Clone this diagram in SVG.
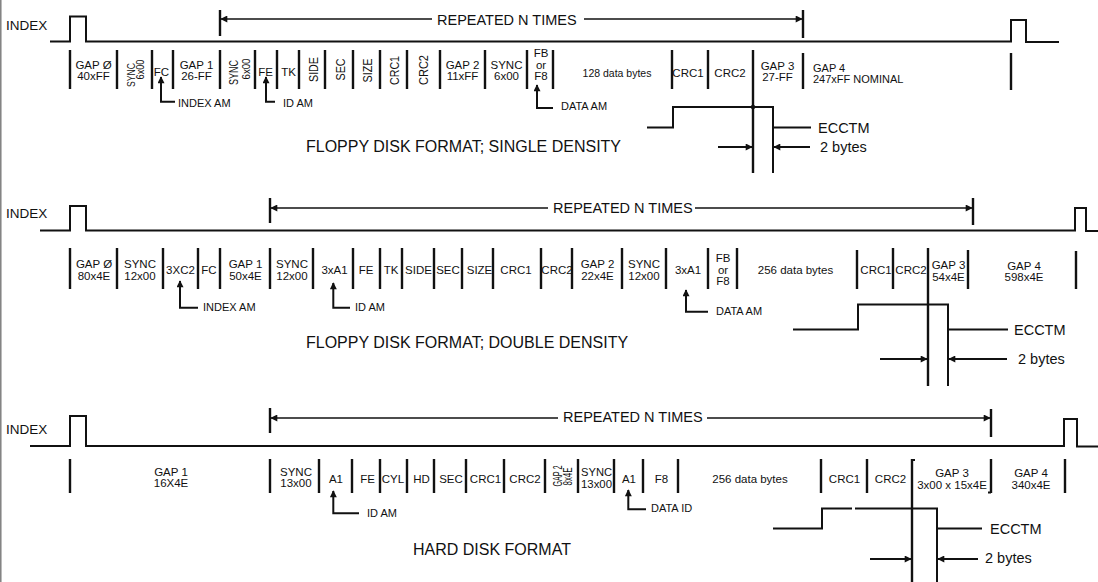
<svg xmlns="http://www.w3.org/2000/svg" width="1098" height="582" viewBox="0 0 1098 582">
<style>
.t{font-family:"Liberation Sans",Arial,Helvetica,sans-serif;fill:#111}
.s{font-size:11.5px;text-anchor:middle}
.r{font-size:12.5px;text-anchor:middle}
.sl{font-size:11px}
.am{font-size:11px}
.big{font-size:14.5px}
.ttl{font-size:16px}
.idx{font-size:13.5px}
.sep{stroke:#111;stroke-width:2.4;fill:none}
.ln{stroke:#111;stroke-width:2;fill:none}
.ptr{stroke:#111;stroke-width:2;fill:none;marker-end:url(#ah)}
.dim{stroke:#111;stroke-width:1.8;fill:none;marker-end:url(#ahl)}
.rpa{stroke:#111;stroke-width:1.6;fill:none;marker-end:url(#ahl)}
</style>
<defs>
<marker id="ah" viewBox="0 0 10 10" refX="9" refY="5" markerWidth="11" markerHeight="7" orient="auto" markerUnits="userSpaceOnUse"><path d="M0,0 L10,5 L0,10 z" fill="#111"/></marker>
<marker id="ahl" viewBox="0 0 10 10" refX="9" refY="5" markerWidth="16" markerHeight="7" orient="auto" markerUnits="userSpaceOnUse"><path d="M0,0 L10,5 L0,10 z" fill="#111"/></marker>
</defs>
<rect width="1098" height="582" fill="#fff"/>
<line x1="0.8" y1="0" x2="0.8" y2="582" stroke="#777" stroke-width="1.4"/>

<!-- ================= SINGLE DENSITY ================= -->
<g id="sd-index"><text class="t idx" x="6" y="30">INDEX</text></g>
<g id="sd-repeat"><text class="t big" x="437" y="24.5">REPEATED N TIMES</text></g>
<g id="sd-gap0"><text class="t s" x="93.5" y="69">GAP Ø</text><text class="t s" x="93.5" y="80">40xFF</text></g>
<g id="sd-sync1"><text class="t r" style="font-size:11.5px" transform="translate(134.5,75) rotate(-90)" textLength="24" lengthAdjust="spacingAndGlyphs">SYNC</text><text class="t r" style="font-size:10px" transform="translate(143.5,69.5) rotate(-90)" textLength="20" lengthAdjust="spacingAndGlyphs">6x00</text></g>
<g id="sd-fc"><text class="t s" x="161.5" y="76">FC</text></g>
<g id="sd-gap1"><text class="t s" x="196.5" y="69">GAP 1</text><text class="t s" x="196.5" y="80">26-FF</text></g>
<g id="sd-sync2"><text class="t r" style="font-size:12px" transform="translate(237.5,72.5) rotate(-90)" textLength="25" lengthAdjust="spacingAndGlyphs">SYNC</text><text class="t r" style="font-size:11px" transform="translate(249.5,69) rotate(-90)" textLength="21" lengthAdjust="spacingAndGlyphs">6x00</text></g>
<g id="sd-fe"><text class="t s" x="265.5" y="76">FE</text></g>
<g id="sd-tk"><text class="t s" x="288.5" y="76">TK</text></g>
<g id="sd-side"><text class="t r" transform="translate(318,69.5) rotate(-90)" textLength="25" lengthAdjust="spacingAndGlyphs">SIDE</text></g>
<g id="sd-sec"><text class="t r" transform="translate(344.5,69.5) rotate(-90)" textLength="22" lengthAdjust="spacingAndGlyphs">SEC</text></g>
<g id="sd-size"><text class="t r" transform="translate(371.5,70.5) rotate(-90)" textLength="24" lengthAdjust="spacingAndGlyphs">SIZE</text></g>
<g id="sd-crc1a"><text class="t r" transform="translate(398.5,70.5) rotate(-90)" textLength="29" lengthAdjust="spacingAndGlyphs">CRC1</text></g>
<g id="sd-crc2a"><text class="t r" transform="translate(428,70) rotate(-90)" textLength="30" lengthAdjust="spacingAndGlyphs">CRC2</text></g>
<g id="sd-gap2"><text class="t s" x="462.5" y="69">GAP 2</text><text class="t s" x="462.5" y="80">11xFF</text></g>
<g id="sd-sync3"><text class="t s" x="506.5" y="69">SYNC</text><text class="t s" x="506.5" y="80">6x00</text></g>
<g id="sd-fb"><text class="t s" x="541" y="57">FB</text><text class="t s" x="541" y="68.5">or</text><text class="t s" x="541" y="80">F8</text></g>
<g id="sd-data"><text class="t s" x="617" y="77" style="font-size:10.5px">128 data bytes</text></g>
<g id="sd-crc1b"><text class="t s" x="688" y="77">CRC1</text></g>
<g id="sd-crc2b"><text class="t s" x="730" y="77">CRC2</text></g>
<g id="sd-gap3"><text class="t s" x="777.5" y="69.5">GAP 3</text><text class="t s" x="777.5" y="81">27-FF</text></g>
<g id="sd-gap4"><text class="t sl" x="813" y="72">GAP 4</text><text class="t sl" x="813" y="83">247xFF NOMINAL</text></g>
<g id="sd-indexam"><text class="t am" x="178" y="107">INDEX AM</text></g>
<g id="sd-idam"><text class="t am" x="283" y="107">ID AM</text></g>
<g id="sd-dataam"><text class="t am" x="561" y="110">DATA AM</text></g>
<g id="sd-ecctm"><text class="t big" x="818" y="133">ECCTM</text></g>
<g id="sd-2bytes"><text class="t big" x="820" y="152">2 bytes</text></g>
<g id="sd-title"><text class="t ttl" x="306" y="152">FLOPPY DISK FORMAT; SINGLE DENSITY</text></g>

<!-- ================= DOUBLE DENSITY ================= -->
<g id="dd-index"><text class="t idx" x="6" y="217.5">INDEX</text></g>
<g id="dd-repeat"><text class="t big" x="553" y="212.5">REPEATED N TIMES</text></g>
<g id="dd-gap0"><text class="t s" x="94" y="268">GAP Ø</text><text class="t s" x="94" y="280">80x4E</text></g>
<g id="dd-sync1"><text class="t s" x="140" y="268">SYNC</text><text class="t s" x="140" y="280">12x00</text></g>
<g id="dd-3xc2"><text class="t s" x="180.5" y="274">3XC2</text></g>
<g id="dd-fc"><text class="t s" x="209" y="274">FC</text></g>
<g id="dd-gap1"><text class="t s" x="245.5" y="268">GAP 1</text><text class="t s" x="245.5" y="280">50x4E</text></g>
<g id="dd-sync2"><text class="t s" x="292" y="268">SYNC</text><text class="t s" x="292" y="280">12x00</text></g>
<g id="dd-3xa1a"><text class="t s" x="334.5" y="274">3xA1</text></g>
<g id="dd-fe"><text class="t s" x="366" y="274">FE</text></g>
<g id="dd-tk"><text class="t s" x="391" y="274">TK</text></g>
<g id="dd-side"><text class="t s" x="418.5" y="274">SIDE</text></g>
<g id="dd-sec"><text class="t s" x="448" y="274">SEC</text></g>
<g id="dd-size"><text class="t s" x="479.5" y="274">SIZE</text></g>
<g id="dd-crc1a"><text class="t s" x="516" y="274">CRC1</text></g>
<g id="dd-crc2a"><text class="t s" x="557" y="274">CRC2</text></g>
<g id="dd-gap2"><text class="t s" x="597.5" y="268">GAP 2</text><text class="t s" x="597.5" y="280">22x4E</text></g>
<g id="dd-sync3"><text class="t s" x="644" y="268">SYNC</text><text class="t s" x="644" y="280">12x00</text></g>
<g id="dd-3xa1b"><text class="t s" x="688" y="274">3xA1</text></g>
<g id="dd-fb"><text class="t s" x="723" y="262">FB</text><text class="t s" x="723" y="273.5">or</text><text class="t s" x="723" y="285">F8</text></g>
<g id="dd-data"><text class="t s" x="795.5" y="274">256 data bytes</text></g>
<g id="dd-crc1b"><text class="t s" x="876" y="274">CRC1</text></g>
<g id="dd-crc2b"><text class="t s" x="911" y="274">CRC2</text></g>
<g id="dd-gap3"><text class="t s" x="948.5" y="269">GAP 3</text><text class="t s" x="948.5" y="281">54x4E</text></g>
<g id="dd-gap4"><text class="t s" x="1024" y="270">GAP 4</text><text class="t s" x="1024" y="281">598x4E</text></g>
<g id="dd-indexam"><text class="t am" x="203" y="311">INDEX AM</text></g>
<g id="dd-idam"><text class="t am" x="355" y="311">ID AM</text></g>
<g id="dd-dataam"><text class="t am" x="716" y="315">DATA AM</text></g>
<g id="dd-ecctm"><text class="t big" x="1014" y="335">ECCTM</text></g>
<g id="dd-2bytes"><text class="t big" x="1018" y="363.5">2 bytes</text></g>
<g id="dd-title"><text class="t ttl" x="306" y="348">FLOPPY DISK FORMAT; DOUBLE DENSITY</text></g>

<!-- ================= HARD DISK ================= -->
<g id="hd-index"><text class="t idx" x="6" y="433.5">INDEX</text></g>
<g id="hd-repeat"><text class="t big" x="563" y="421.7">REPEATED N TIMES</text></g>
<g id="hd-gap1"><text class="t s" x="171" y="476">GAP 1</text><text class="t s" x="171" y="487">16X4E</text></g>
<g id="hd-sync1"><text class="t s" x="296" y="476">SYNC</text><text class="t s" x="296" y="487">13x00</text></g>
<g id="hd-a1a"><text class="t s" x="336" y="483">A1</text></g>
<g id="hd-fe"><text class="t s" x="367.5" y="483">FE</text></g>
<g id="hd-cyl"><text class="t s" x="393" y="483">CYL</text></g>
<g id="hd-hd"><text class="t s" x="421.5" y="483">HD</text></g>
<g id="hd-sec"><text class="t s" x="451" y="483">SEC</text></g>
<g id="hd-crc1a"><text class="t s" x="485.5" y="483">CRC1</text></g>
<g id="hd-crc2a"><text class="t s" x="525" y="483">CRC2</text></g>
<g id="hd-gap2"><text class="t r" style="font-size:12px" transform="translate(562,476) rotate(-90)" textLength="21" lengthAdjust="spacingAndGlyphs">GAP 2</text><text class="t r" style="font-size:12px" transform="translate(571.5,476.5) rotate(-90)" textLength="18" lengthAdjust="spacingAndGlyphs">8x4E</text></g>
<g id="hd-sync2"><text class="t s" style="font-size:10.5px" x="596.5" y="475.5" textLength="31" lengthAdjust="spacingAndGlyphs">SYNC</text><text class="t s" style="font-size:10.5px" x="596.5" y="487.5" textLength="31" lengthAdjust="spacingAndGlyphs">13x00</text></g>
<g id="hd-a1b"><text class="t s" x="629" y="483">A1</text></g>
<g id="hd-f8"><text class="t s" x="661.5" y="483">F8</text></g>
<g id="hd-data"><text class="t s" x="750" y="483">256 data bytes</text></g>
<g id="hd-crc1b"><text class="t s" x="844.5" y="483">CRC1</text></g>
<g id="hd-crc2b"><text class="t s" x="890.5" y="483">CRC2</text></g>
<g id="hd-gap3"><text class="t s" x="952" y="477">GAP 3</text><text class="t s" x="952" y="489">3x00 x 15x4E</text></g>
<g id="hd-gap4"><text class="t s" x="1031" y="477">GAP 4</text><text class="t s" x="1031" y="489">340x4E</text></g>
<g id="hd-idam"><text class="t am" x="367" y="516.7">ID AM</text></g>
<g id="hd-dataid"><text class="t am" x="651" y="512.3">DATA ID</text></g>
<g id="hd-ecctm"><text class="t big" x="990" y="534">ECCTM</text></g>
<g id="hd-2bytes"><text class="t big" x="985" y="563">2 bytes</text></g>
<g id="hd-title"><text class="t ttl" x="413" y="555">HARD DISK FORMAT</text></g>

<!-- ================= CONNECTORS / LINES ================= -->
<g id="connectors">
  <!-- index waveforms -->
  <path class="ln" d="M50,41.5 H70 V16.5 H86 V41.5 H1011 V20 H1026 V42 H1059"/>
  <path class="ln" d="M40,230.5 H70 V206 H86 V230.5 H1075 V208 H1086 V231 H1098"/>
  <path class="ln" d="M30,446 H70 V416 H86 V446 H1064 V419 H1077 V446.5 H1098"/>

  <!-- repeated N times -->
  <path class="sep" d="M220,10 V36 M803,10 V38"/>
  <path class="rpa" d="M432,19 H221"/>
  <path class="rpa" d="M584,19 H802"/>
  <path class="sep" d="M270,198 V223 M973,198 V225"/>
  <path class="rpa" d="M548,208 H271"/>
  <path class="rpa" d="M695,208 H972"/>
  <path class="sep" d="M270,408 V433 M991,409 V437"/>
  <path class="rpa" d="M558,418 H271"/>
  <path class="rpa" d="M707,418 H990"/>

  <!-- field separators single density -->
  <path class="sep" d="M70,50 V89 M117,50 V89 M152,50 V89 M173,50 V89 M220,50 V89 M255,50 V89 M277,50 V89 M299,50 V89 M325,50 V89 M353,50 V89 M380,50 V89 M407,50 V89 M440,50 V89 M485,50 V89 M527,50 V89 M553,50 V89 M672,50 V89 M708,50 V89 M753,50 V173 M803,53 V89 M1011,53 V90"/>
  <!-- field separators double density -->
  <path class="sep" d="M70,248 V289 M117,248 V289 M163,248 V289 M198,248 V289 M220,248 V289 M270,248 V289 M313,248 V289 M353,248 V289 M380,248 V289 M402,248 V289 M434,248 V289 M462,248 V289 M493,248 V289 M541,248 V289 M572,248 V289 M622,248 V289 M666,248 V289 M708,248 V289 M737,248 V289 M857,250 V289 M893,248 V289 M928,248 V386 M968,250 V289 M1076,251 V289"/>
  <!-- field separators hard disk -->
  <path class="sep" d="M70,459 V493 M270,459 V493 M319,459 V493 M352,459 V493 M380,459 V493 M407,459 V493 M434,459 V493 M466,459 V493 M504,459 V493 M545,459 V493 M578,459 V493 M614,459 V493 M643,459 V493 M678,459 V493 M821,459 V493 M867,459 V493 M912,459 V582 M991,459 V493 M1065,459 V493"/>
  <path class="ln" d="M912,460 H915 M991,492.5 H988"/>

  <!-- address mark pointers -->
  <path class="ptr" d="M175,101.7 H161 V77"/>
  <path class="ptr" d="M275,101.7 H266 V77"/>
  <path class="ptr" d="M553,108 H537 V85"/>
  <path class="ptr" d="M198,307.7 H180 V281"/>
  <path class="ptr" d="M350,307.7 H333.3 V283"/>
  <path class="ptr" d="M708,311.7 H686 V290"/>
  <path class="ptr" d="M359,513.3 H333.3 V491"/>
  <path class="ptr" d="M646,509.3 H628.3 V490"/>

  <!-- ECC timing single density -->
  <path class="ln" d="M647,127.5 H673 V107 H773 V173"/>
  <circle cx="753" cy="107" r="2.2" fill="#111"/>
  <path class="ln" d="M773,127.5 H811"/>
  <path class="dim" d="M718,147 H752"/>
  <path class="dim" d="M810,147 H774"/>
  <!-- ECC timing double density -->
  <path class="ln" d="M793,329.5 H858 V304.5 H948 V386"/>
  <path class="ln" d="M948,329.5 H1008"/>
  <path class="dim" d="M880,359 H927"/>
  <path class="dim" d="M1007,359 H949"/>
  <!-- ECC timing hard disk -->
  <path class="ln" d="M773,528.5 H822 V508.5 H852"/>
  <path class="ln" d="M855,508.5 H937 V582"/>
  <path class="ln" d="M937,528.5 H982"/>
  <path class="dim" d="M870,559 H911"/>
  <path class="dim" d="M978,559 H938"/>
</g>
</svg>
